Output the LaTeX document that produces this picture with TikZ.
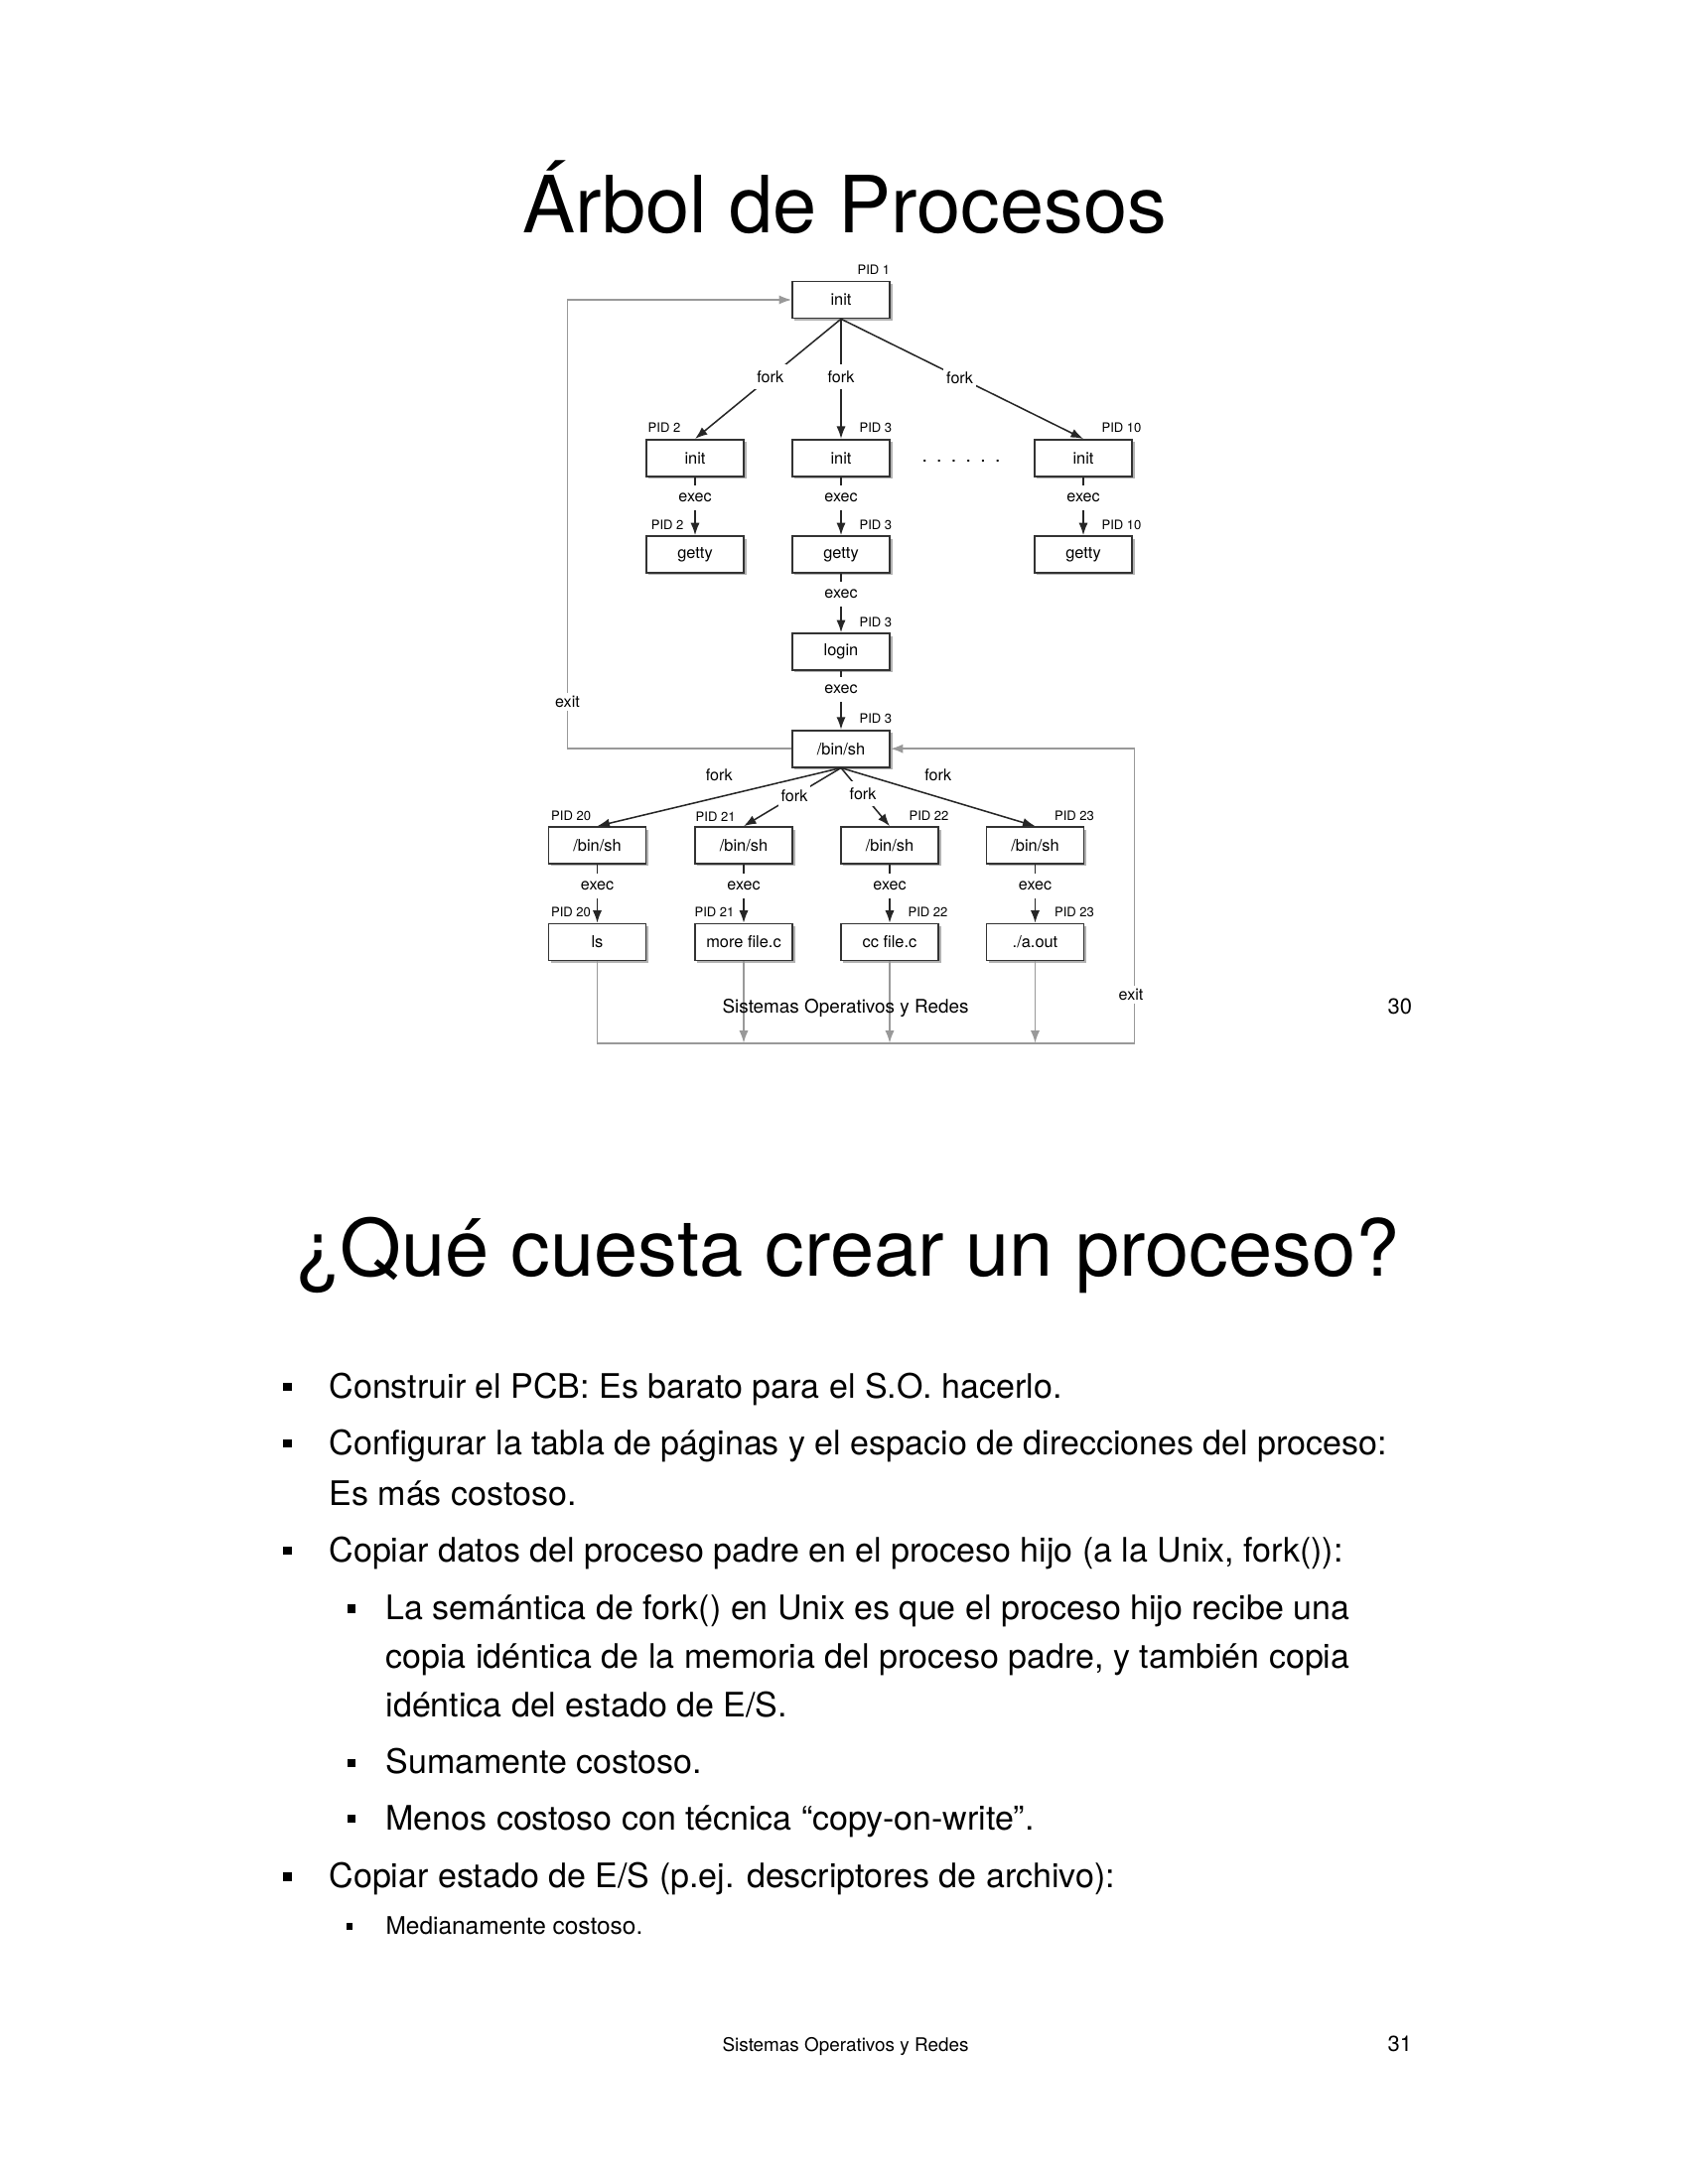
\documentclass[tikz,border=0pt]{standalone}
\usepackage{fontspec}
\setmainfont{TeX Gyre Heros}
\usetikzlibrary{arrows.meta,shadows}

\begin{document}
\begin{tikzpicture}[
		x=0.36pt, y=0.36pt,
		proc/.style={draw=black!80,line width=0.6pt,fill=white,minimum width=35.3pt,minimum height=13.3pt,inner sep=0pt,
			font=\fontsize{5.9}{6}\selectfont,drop shadow={shadow xshift=0.9pt,shadow yshift=-0.9pt,opacity=1,fill=black!30}},
		pid/.style={inner sep=0pt,font=\fontsize{4.7}{5}\selectfont},
		lbl/.style={fill=white,inner sep=1pt,minimum height=9pt,font=\fontsize{5.8}{6}\selectfont},
		lblup/.style={inner sep=0pt,yshift=8pt,font=\fontsize{5.8}{6}\selectfont},
		exitlbl/.style={fill=white,inner sep=1.2pt,font=\fontsize{5.8}{6}\selectfont},
		arr/.style={draw=black!85,line width=0.55pt,-{Latex[length=4.5pt,width=3.3pt]}},
		exitln/.style={draw=black!40,line width=0.6pt},
		exitarr/.style={exitln,-{Latex[length=4.5pt,width=3.3pt]}},
		title/.style={inner sep=0pt,anchor=base,font=\fontsize{28.6}{34}\selectfont},
		txt/.style={inner sep=0pt,anchor=base west,font=\fontsize{12.24}{14}\selectfont},
		small/.style={inner sep=0pt,anchor=base west,font=\fontsize{8.8}{10}\selectfont},
		foot/.style={inner sep=0pt,anchor=base,font=\fontsize{6.8}{8}\selectfont},
		pnum/.style={inner sep=0pt,anchor=base west,font=\fontsize{7.9}{9}\selectfont},
		bul/.style={fill=black,inner sep=0pt,minimum size=3.2pt},
		subbul/.style={fill=black,inner sep=0pt,minimum size=2.9pt}
		]
		\useasboundingbox (0,0) rectangle (1700,-2200);

		% page 30
		\node[title] (T1) at (851,-235) {Árbol de Procesos};

		\node[proc] (init1) at (847,-302) {init};
		\node[proc] (init2) at (700,-461.3) {init};
		\node[proc] (init3) at (847,-461.3) {init};
		\node[proc] (init10) at (1091,-461.3) {init};
		\node[proc] (getty2) at (700,-558.5) {getty};
		\node[proc] (getty3) at (847,-558.5) {getty};
		\node[proc] (getty10) at (1091,-558.5) {getty};
		\node[proc] (login3) at (847,-656.5) {login};
		\node[proc] (sh3) at (847,-754.2) {/bin/sh};
		\node[proc] (sh20) at (601.5,-851.5) {/bin/sh};
		\node[proc] (sh21) at (749,-851.5) {/bin/sh};
		\node[proc] (sh22) at (896,-851.5) {/bin/sh};
		\node[proc] (sh23) at (1042.5,-851.5) {/bin/sh};
		\node[proc] (ls20) at (601.5,-949) {ls};
		\node[proc] (more21) at (749,-949) {more file.c};
		\node[proc] (cc22) at (896,-949) {cc file.c};
		\node[proc] (aout23) at (1042.5,-949) {./a.out};

		\node[pid,anchor=base west] (p1) at ([shift={(16,6)}]init1.north) {PID 1};
		\node[pid,anchor=base west] (p2a) at ([shift={(2,6)}]init2.north west) {PID 2};
		\node[pid,anchor=base west] (p3a) at ([shift={(18,6)}]init3.north) {PID 3};
		\node[pid,anchor=base west] (p10a) at ([shift={(18,6)}]init10.north) {PID 10};
		\node[pid,anchor=base east] (p2b) at ([shift={(-11,6)}]getty2.north) {PID 2};
		\node[pid,anchor=base west] (p3b) at ([shift={(18,6)}]getty3.north) {PID 3};
		\node[pid,anchor=base west] (p10b) at ([shift={(18,6)}]getty10.north) {PID 10};
		\node[pid,anchor=base west] (p3c) at ([shift={(18,6)}]login3.north) {PID 3};
		\node[pid,anchor=base west] (p3d) at ([shift={(18,6)}]sh3.north) {PID 3};
		\node[pid,anchor=base west] (p20a) at ([shift={(3,6)}]sh20.north west) {PID 20};
		\node[pid,anchor=base west] (p21a) at ([shift={(1,5)}]sh21.north west) {PID 21};
		\node[pid,anchor=base west] (p22a) at ([shift={(19,6)}]sh22.north) {PID 22};
		\node[pid,anchor=base west] (p23a) at ([shift={(19,6)}]sh23.north) {PID 23};
		\node[pid,anchor=base east] (p20b) at ([shift={(-6,6)}]ls20.north) {PID 20};
		\node[pid,anchor=base east] (p21b) at ([shift={(-9,6)}]more21.north) {PID 21};
		\node[pid,anchor=base west] (p22b) at ([shift={(18,6)}]cc22.north) {PID 22};
		\node[pid,anchor=base west] (p23b) at ([shift={(19,6)}]aout23.north) {PID 23};

		\node[inner sep=0pt,font=\fontsize{7}{7}\selectfont] (dots) at (968,-464) {.\hspace{3.35pt}.\hspace{3.35pt}.\hspace{3.35pt}.\hspace{3.35pt}.\hspace{3.35pt}.};

		\draw[arr] (init1.south) -- node[lbl,pos=.485] (f2) {fork} (init2.north);
		\draw[arr] (init1.south) -- node[lbl,pos=.485] (f3) {fork} (init3.north);
		\draw[arr] (init1.south) -- node[lbl,pos=.49] (f10) {fork} (init10.north);
		\draw[arr] (init2.south) -- node[lbl,pos=.35] (e2) {exec} (getty2.north);
		\draw[arr] (init3.south) -- node[lbl,pos=.35] (e3a) {exec} (getty3.north);
		\draw[arr] (init10.south) -- node[lbl,pos=.35] (e10) {exec} (getty10.north);
		\draw[arr] (getty3.south) -- node[lbl,pos=.35] (e3b) {exec} (login3.north);
		\draw[arr] (login3.south) -- node[lbl,pos=.32] (e3c) {exec} (sh3.north);

		\draw[arr] (sh3.south) -- node[lblup,pos=.5] (f20) {fork} (sh20.north);
		\draw[arr] (sh3.south) -- node[lbl,pos=.48] (f21) {fork} (sh21.north);
		\draw[arr] (sh3.south) -- node[lbl,pos=.45] (f22) {fork} (sh22.north);
		\draw[arr] (sh3.south) -- node[lblup,pos=.5] (f23) {fork} (sh23.north);
		\draw[arr] (sh20.south) -- node[lbl,pos=.36] (e20) {exec} (ls20.north);
		\draw[arr] (sh21.south) -- node[lbl,pos=.36] (e21) {exec} (more21.north);
		\draw[arr] (sh22.south) -- node[lbl,pos=.36] (e22) {exec} (cc22.north);
		\draw[arr] (sh23.south) -- node[lbl,pos=.36] (e23) {exec} (aout23.north);

		% exit paths
		\coordinate (cL) at (571.5,-707);
		\coordinate (cR) at (1142.5,-1050.7);
		\draw[exitarr] (sh3.west) -- (sh3.west -| cL) |- (init1.west);
		\node[exitlbl] (xL) at (cL) {exit};
		\draw[exitarr] (ls20.south) |- (cR) |- (sh3.east);
		\draw[exitarr] (more21.south) -- (more21.south |- cR);
		\draw[exitarr] (cc22.south) -- (cc22.south |- cR);
		\draw[exitarr] (aout23.south) -- (aout23.south |- cR);
		\node[exitlbl] (xR) at (1139,-1001.7) {exit};

		\node[foot] (F1) at (851.5,-1020) {Sistemas Operativos y Redes};
		\node[pnum] (n30) at (1397,-1021) {30};

		% page 31
		\node[title] (T2) at (854,-1285) {¿Qué cuesta crear un proceso?};

		\node[bul] (b1) at (289.5,-1397) {};
		\node[txt] (t1) at (331,-1408) {Construir el PCB: Es barato para el S.O. hacerlo.};
		\node[bul] (b2) at (289.5,-1454) {};
		\node[txt] (t2) at (331,-1465) {Configurar la tabla de páginas y el espacio de direcciones del proceso:};
		\node[txt] (t2b) at (331,-1516) {Es más costoso.};
		\node[bul] (b3) at (289.5,-1562) {};
		\node[txt] (t3) at (331,-1573.3) {Copiar datos del proceso padre en el proceso hijo (a la Unix, fork()):};
		\node[subbul] (b4) at (354,-1620.5) {};
		\node[txt] (t4) at (388,-1631.7) {La semántica de fork() en Unix es que el proceso hijo recibe una};
		\node[txt] (t4b) at (388,-1680) {copia idéntica de la memoria del proceso padre, y también copia};
		\node[txt] (t4c) at (388,-1729) {idéntica del estado de E/S.};
		\node[subbul] (b5) at (354,-1775.7) {};
		\node[txt] (t5) at (388,-1786.7) {Sumamente costoso.};
		\node[subbul] (b6) at (354,-1832.3) {};
		\node[txt] (t6) at (388,-1843.3) {Menos costoso con técnica “copy-on-write”.};
		\node[bul] (b7) at (289.5,-1890.7) {};
		\node[txt] (t7) at (331,-1901.7) {Copiar estado de E/S (p.ej. descriptores de archivo):};
		\node[bul,minimum size=2.3pt] (b8) at (352,-1940.3) {};
		\node[small] (t8) at (388,-1948.3) {Medianamente costoso.};

		\node[foot] (F2) at (851.5,-2066) {Sistemas Operativos y Redes};
		\node[pnum] (n31) at (1397,-2066) {31};
	\end{tikzpicture}
\end{document}
